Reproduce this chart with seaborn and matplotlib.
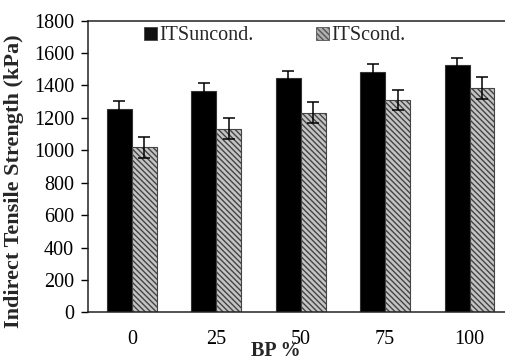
import numpy as np
import pandas as pd
import matplotlib
matplotlib.use("Agg")
import matplotlib.pyplot as plt
import seaborn as sns
from matplotlib.patches import Patch

categories = ["0", "25", "50", "75", "100"]
series_names = ["ITSuncond.", "ITScond."]
uncond_vals = [1255, 1366, 1444, 1483, 1527]
uncond_err = [47, 47, 47, 50, 45]
cond_vals = [1018, 1133, 1232, 1310, 1384]
cond_err = [65, 65, 66, 62, 67]
yticks = [0, 200, 400, 600, 800, 1000, 1200, 1400, 1600, 1800]

df = pd.DataFrame({
    "BP": categories * 2,
    "series": [series_names[0]] * 5 + [series_names[1]] * 5,
    "value": uncond_vals + cond_vals,
})

sns.set_theme(style="white")
plt.rcParams['font.family'] = ['Liberation Serif', 'DejaVu Serif']

fig = plt.figure(figsize=(5.05, 3.62), dpi=100)
ax = fig.add_axes([0.174, 0.137, 0.826, 0.806])

sns.barplot(data=df, x="BP", y="value", hue="series", order=categories,
            hue_order=series_names, palette=["#000000", "#b8b8b8"],
            width=0.59, errorbar=None, ax=ax, legend=False, linewidth=0)

errs = [uncond_err, cond_err]
bar_containers = list(ax.containers)
for ci, cont in enumerate(bar_containers):
    for bi, patch in enumerate(cont.patches):
        if ci == 0:
            patch.set_facecolor("#000000")
            patch.set_edgecolor("#333333")
            patch.set_linewidth(0.8)
        else:
            patch.set_facecolor("#c4c4c4")
            patch.set_edgecolor("#444444")
            patch.set_hatch("\\\\\\\\\\\\")
            patch.set_linewidth(0.8)
        cx = patch.get_x() + patch.get_width() / 2
        h = patch.get_height()
        ax.errorbar(cx, h, yerr=errs[ci][bi], fmt="none", ecolor="black",
                    elinewidth=1.1, capsize=4.5, capthick=1.1, zorder=5)

ax.set_ylim(0, 1800)
ax.set_xlim(-0.52, 4.42)
ax.set_yticks(yticks)
ax.set_yticklabels([str(t) for t in yticks])

for s in ["right"]:
    ax.spines[s].set_visible(False)
for s in ["left", "bottom", "top"]:
    ax.spines[s].set_visible(True)
    ax.spines[s].set_color("#222222")
    ax.spines[s].set_linewidth(1.1)

ax.tick_params(axis="y", which="both", left=True, length=5, width=1, pad=5,
               labelsize=14.5, colors="black", direction="out")
ax.tick_params(axis="x", bottom=False, length=0, pad=13, labelsize=14.5, colors="black")

ax.set_ylabel("Indirect Tensile Strength (kPa)", fontsize=16, fontweight="bold")
ax.yaxis.set_label_coords(-0.153, 0.45, transform=ax.transAxes)
ax.set_xlabel("BP %", fontsize=14.5, fontweight="bold")
ax.xaxis.set_label_coords(0.45, -0.098, transform=ax.transAxes)
ax.xaxis.label.set_va("top")

handles = [Patch(facecolor="#111111", edgecolor="#444444", linewidth=0.6),
           Patch(facecolor="#b0b0b0", edgecolor="#555555", hatch="\\\\\\\\\\\\", linewidth=0.6)]
ax.legend(handles, series_names, ncol=2, loc="upper left",
          bbox_to_anchor=(0.11, 1.015), frameon=False, fontsize=14.5,
          handlelength=0.65, handleheight=0.65, handletextpad=0.1,
          columnspacing=3.1, borderaxespad=0.1)

fig.savefig("out.png", dpi=100)
